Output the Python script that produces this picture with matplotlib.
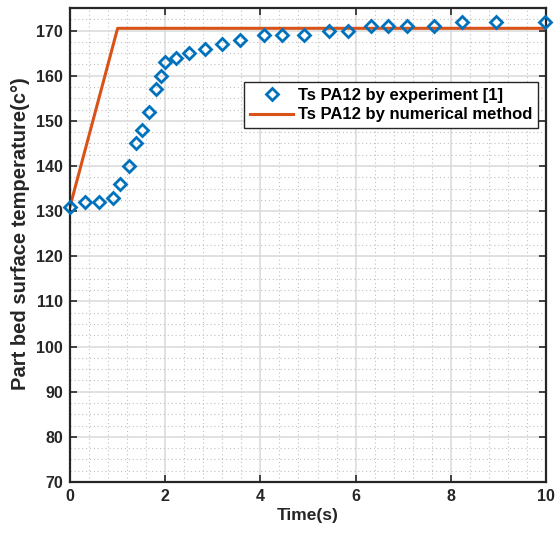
import matplotlib
matplotlib.use("Agg")
import matplotlib.pyplot as plt
from matplotlib.ticker import MultipleLocator

plt.rcParams['font.family'] = ['Liberation Sans', 'DejaVu Sans']
plt.rcParams['font.weight'] = 'bold'

# experiment data
t_exp = [0, 0.32, 0.61, 0.9, 1.06, 1.24, 1.39, 1.51, 1.65, 1.81, 1.91, 2.0, 2.22,
         2.51, 2.84, 3.19, 3.57, 4.07, 4.45, 4.92, 5.45, 5.85, 6.32, 6.69, 7.09,
         7.65, 8.24, 8.94, 9.97]
T_exp = [131, 132, 132, 133, 136, 140, 145, 148, 152, 157, 160, 163, 164,
         165, 166, 167, 168, 169, 169, 169, 170, 170, 171, 171, 171,
         171, 172, 172, 172]

# numerical model
t_num = [0, 1.0, 10]
T_num = [131, 170.5, 170.5]

fig = plt.figure(figsize=(5.56, 5.36), dpi=100)
ax = fig.add_axes([70/556, 54/536, 476/556, 474/536])

ax.plot(t_exp, T_exp, linestyle='none', marker='D', markersize=6.5,
        markerfacecolor='none', markeredgecolor='#0072BD', markeredgewidth=2,
        clip_on=False, zorder=3, label='Ts PA12 by experiment [1]')
ax.plot(t_num, T_num, color='#D95319', lw=2.2, zorder=2,
        label='Ts PA12 by numerical method')

ax.set_xlim(0, 10)
ax.set_ylim(70, 175)
ax.set_xticks(range(0, 11, 2))
ax.set_yticks(range(70, 171, 10))
ax.xaxis.set_minor_locator(MultipleLocator(0.4))
ax.yaxis.set_minor_locator(MultipleLocator(2.5))

ax.grid(which='major', color='#d9d9d9', lw=1.1, ls='-')
ax.grid(which='minor', color='#c0c0c0', lw=0.8, ls=(0, (1, 2.5)))
ax.set_axisbelow(True)

ax.tick_params(which='major', direction='in', length=5, width=1.2,
               top=True, right=True, labelsize=11.5, colors='#262626', pad=5)
ax.tick_params(which='minor', length=0)
for lab in ax.get_xticklabels() + ax.get_yticklabels():
    lab.set_fontweight('bold')
for sp in ax.spines.values():
    sp.set_linewidth(1.6)
    sp.set_color('#262626')

ax.set_xlabel('Time(s)', fontsize=12.5, fontweight='bold', color='#262626', labelpad=3)
ax.set_ylabel('Part bed surface temperature(c°)', fontsize=14.5,
              fontweight='bold', color='#262626')
ax.yaxis.set_label_coords(-0.085, 0.525)

leg = ax.legend(loc='upper right', bbox_to_anchor=(0.984, 0.843), borderaxespad=0,
                fancybox=False, framealpha=1, edgecolor='#262626',
                prop={'weight': 'bold', 'size': 12}, handlelength=2.6,
                handletextpad=0.3, borderpad=0.35, labelspacing=0.25)
leg.get_frame().set_linewidth(1.0)

fig.savefig('out.png', dpi=100)
